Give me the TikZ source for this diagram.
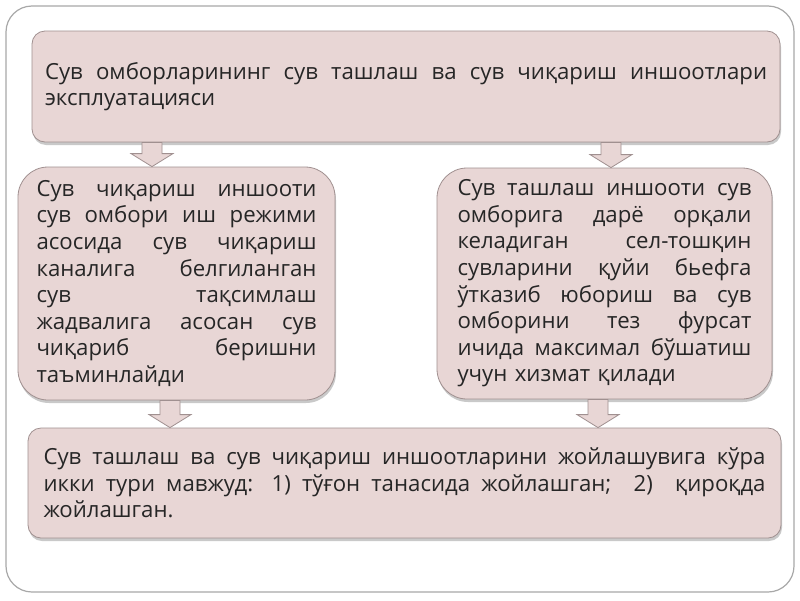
\documentclass[tikz,border=0pt]{standalone}
\usepackage{fontspec}
\setmainfont{Open Sans}
\usetikzlibrary{calc,shadows}
\definecolor{boxfill}{HTML}{E8D6D5}
\definecolor{boxline}{HTML}{A09090}
\definecolor{txt}{HTML}{262626}
\definecolor{framec}{HTML}{A8A8A8}
\newcommand\jl[1]{\makebox[\linewidth][s]{\spaceskip=0pt\xspaceskip=0pt\relax #1}\\}
\newcommand\blockarr[3]{%
  \path (#2.south) coordinate (tmpa) (#3.north) coordinate (tmpb);
  \draw[arrowsty] let \p1=(tmpa), \p2=(tmpb) in
    (#1-10pt,\y1) -- (#1-10pt,\y2+13pt) -- (#1-21pt,\y2+13pt) -- (#1,\y2)
    -- (#1+21pt,\y2+13pt) -- (#1+10pt,\y2+13pt) -- (#1+10pt,\y1) -- cycle;}
\tikzset{
  box/.style={draw=boxline, line width=0.8pt, fill=boxfill, text=txt,
    align=left, anchor=center, inner xsep=8pt, inner ysep=4pt,
    font=\fontsize{22.2}{26.6}\selectfont,
    drop shadow={shadow xshift=1pt, shadow yshift=-3pt, opacity=0.35, fill=black!60}},
  arrowsty/.style={draw=boxline, line width=0.8pt, fill=boxfill, line join=miter},
  frame/.style={draw=framec, line width=1.2pt, fill=white, rounded corners=26pt}
}
\begin{document}
\begin{tikzpicture}[x=1pt,y=-1pt]
\useasboundingbox (0,0) rectangle (800,600);
\draw[frame] (6,6) rectangle (794,592);
\node[box, rounded corners=13pt, minimum width=748pt, minimum height=111pt, text width=722pt] (top) at (406,86.5)
  {\jl{Сув омборларининг сув ташлаш ва сув чиқариш иншоотлари}эксплуатацияси};
\node[box, rounded corners=30pt, minimum width=317pt, minimum height=233pt, text width=280pt] (left) at (176.5,283.5)
  {\jl{Сув чиқариш иншооти}\jl{сув омбори иш режими}\jl{асосида сув чиқариш}\jl{каналига белгиланган}\jl{сув тақсимлаш}\jl{жадвалига асосан сув}\jl{чиқариб беришни}таъминлайди};
\node[box, rounded corners=30pt, minimum width=335pt, minimum height=231pt, text width=294pt] (right) at (604.5,283.5)
  {\jl{Сув ташлаш иншооти сув}\jl{омборига дарё орқали}\jl{келадиган сел-тошқин}\jl{сувларини қуйи бьефга}\jl{ўтказиб юбориш ва сув}\jl{омборини тез фурсат}\jl{ичида максимал бўшатиш}учун хизмат қилади};
\node[box, rounded corners=13pt, minimum width=753pt, minimum height=110pt, text width=722pt] (bottom) at (404.5,483)
  {\jl{Сув ташлаш ва сув чиқариш иншоотларини жойлашувига кўра}\jl{икки тури мавжуд: 1) тўғон танасида жойлашган;\ \ 2)\ \ қироқда}жойлашган.};
\blockarr{152}{top}{left}
\blockarr{611}{top}{right}
\blockarr{170}{left}{bottom}
\blockarr{598}{right}{bottom}
\end{tikzpicture}
\end{document}
